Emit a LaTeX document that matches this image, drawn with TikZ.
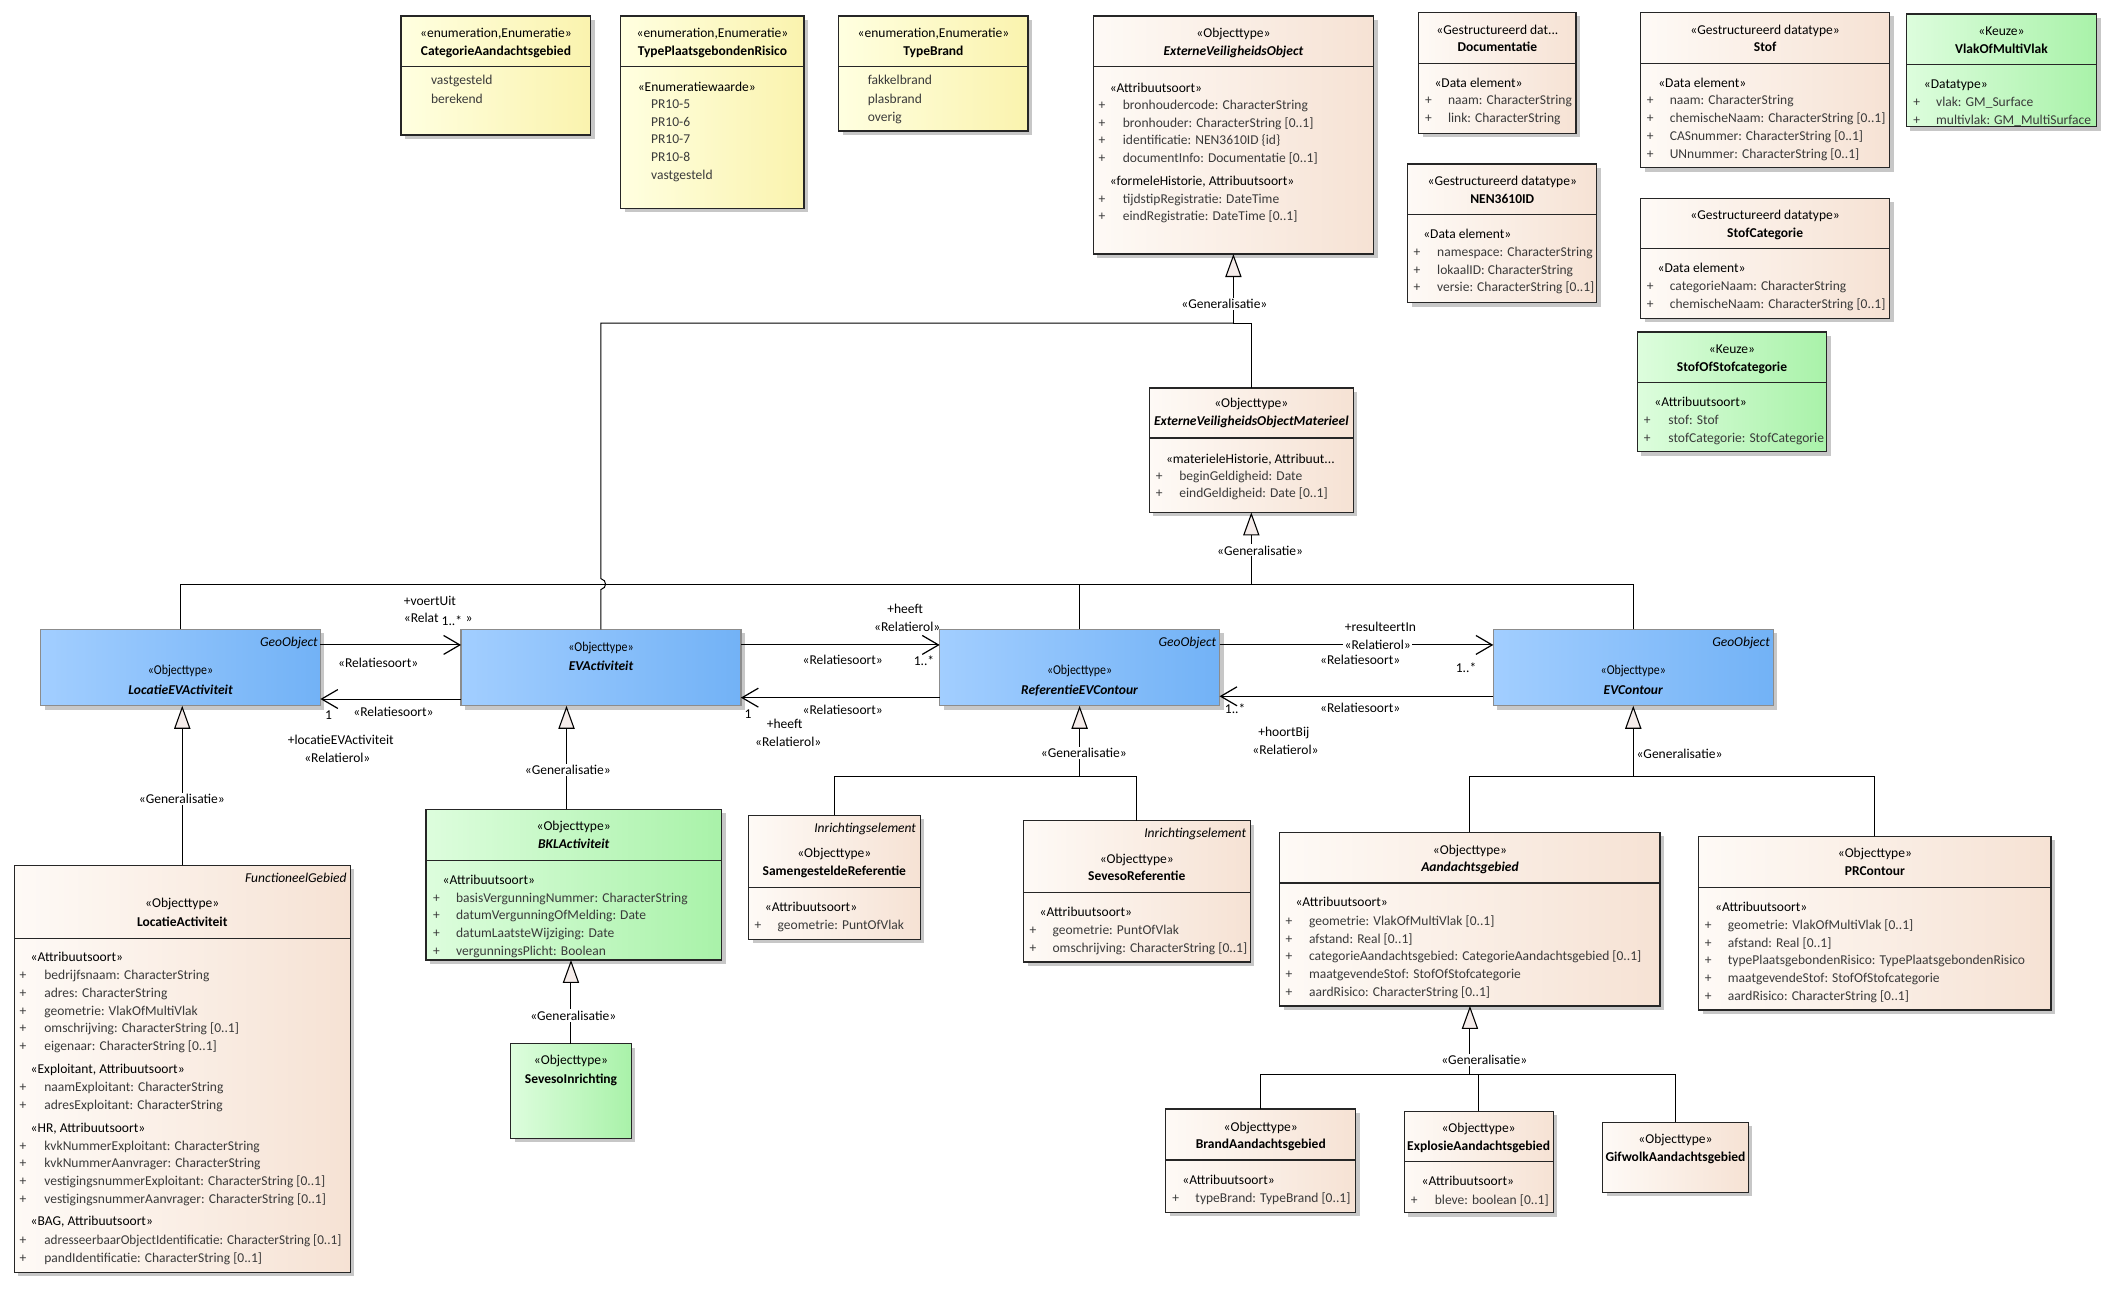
\documentclass[tikz,border=0pt]{standalone}
\usepackage{fontspec}
\setmainfont{Carlito}
\usepackage{graphicx}
\usetikzlibrary{arrows.meta,shadows,calc}
\definecolor{bgL}{HTML}{FEFAF6}
\definecolor{bgR}{HTML}{F6E2D4}
\definecolor{blL}{HTML}{A2CEFF}
\definecolor{blR}{HTML}{72B2F6}
\definecolor{grL}{HTML}{DDFDDD}
\definecolor{grR}{HTML}{A9F2A9}
\definecolor{yeL}{HTML}{FFFFE0}
\definecolor{yeR}{HTML}{FAF3AE}
\definecolor{genfill}{HTML}{F5ECEA}
\definecolor{attrc}{HTML}{3A3A3A}
\tikzset{
 boxbase/.style={anchor=north west, inner sep=0pt, outer sep=0pt, line width=0.9pt, draw=black!85,
   drop shadow={shadow xshift=3pt, shadow yshift=-3pt, fill=black!22, opacity=1}},
 beigebox/.style={boxbase, left color=bgL, right color=bgR},
 bluebox/.style={boxbase, draw=black!45, left color=blL, right color=blR},
 greenbox/.style={boxbase, left color=grL, right color=grR},
 yellowbox/.style={boxbase, left color=yeL, right color=yeR},
 divline/.style={line width=0.9pt, draw=black!85},
 txt/.style={inner sep=0pt, outer sep=0pt, font=\fontsize{10}{12}\selectfont, text=black},
 attr/.style={text=attrc},
 fbold/.style={font=\fontsize{10}{12}\selectfont\bfseries},
 fbi/.style={font=\fontsize{10}{12}\selectfont\bfseries\itshape},
 fital/.style={font=\fontsize{10}{12}\selectfont\itshape},
 genline/.style={line width=0.75pt, draw=black},
 genarrow/.style={genline, -{Triangle[length=17pt, width=12pt, fill=genfill, line width=0.8pt]}},
 assoc/.style={line width=0.75pt, draw=black, -{Straight Barb[length=12pt, width=14pt, line width=0.9pt]}},
 genlbl/.style={fill=white, inner sep=1pt},
}
\newcounter{tn}
\newcommand\T[4][]{\stepcounter{tn}\node[txt,anchor=base,#1] (t\arabic{tn}) at (#2,#3+3.5) {#4};}
\newcommand\TL[4][]{\stepcounter{tn}\node[txt,anchor=base west,#1] (t\arabic{tn}) at (#2,#3+3.5) {#4};}
\newcommand\TR[4][]{\stepcounter{tn}\node[txt,anchor=base east,#1] (t\arabic{tn}) at (#2,#3+3.5) {#4};}
\newcommand\AT[4]{\T[attr]{#1}{#3}{+}\TL[attr]{#2}{#3}{#4}}
\newcommand\UB[7]{\node[#2, minimum width={#5-#3}, minimum height={#6-#4}] (#1) at (#3,#4) {};%
 \ifx\relax#7\relax\else\draw[divline] (#1.west |- 0,#7) -- (#1.east |- 0,#7);\fi}
\begin{document}
\begin{tikzpicture}[x=1pt,y=-1pt]
\fill[white] (0,0) rectangle (1568,956);
\useasboundingbox (0,0) rectangle (1568,956);

% ---------- top row ----------
\UB{cat}{yellowbox}{296.6}{11.8}{437}{99.9}{49.3}
\T{366.8}{24.6}{«enumeration,Enumeratie»}
\T[fbold]{366.8}{37.5}{CategorieAandachtsgebied}
\TL[attr]{318.8}{59}{vastgesteld}
\TL[attr]{318.8}{72.7}{berekend}

\UB{tpr}{yellowbox}{459}{11.8}{594.7}{154}{49.3}
\T{526.9}{24.6}{«enumeration,Enumeratie»}
\T[fbold]{526.9}{37.5}{TypePlaatsgebondenRisico}
\TL{471.7}{64}{«Enumeratiewaarde»}
\TL[attr]{481.6}{77}{PR10-5}
\TL[attr]{481.6}{90}{PR10-6}
\TL[attr]{481.6}{103}{PR10-7}
\TL[attr]{481.6}{116}{PR10-8}
\TL[attr]{481.6}{129.4}{vastgesteld}

\UB{tb}{yellowbox}{620.4}{11.8}{760.4}{96.9}{49.3}
\T{690.4}{24.6}{«enumeration,Enumeratie»}
\T[fbold]{690.4}{37.5}{TypeBrand}
\TL[attr]{641.8}{59}{fakkelbrand}
\TL[attr]{641.8}{72.7}{plasbrand}
\TL[attr]{641.8}{86.3}{overig}

\UB{EVO}{beigebox}{808.5}{11.8}{1016}{187.9}{49.3}
\T{912.3}{24.6}{«Objecttype»}
\T[fbi]{912.3}{37.5}{ExterneVeiligheidsObject}
\TL{820.8}{64.6}{«Attribuutsoort»}
\AT{815}{830.5}{77.7}{bronhoudercode: CharacterString}
\AT{815}{830.5}{90.5}{bronhouder: CharacterString [0..1]}
\AT{815}{830.5}{103.6}{identificatie: NEN3610ID \{id\}}
\AT{815}{830.5}{116.4}{documentInfo: Documentatie [0..1]}
\TL{820.8}{133.9}{«formeleHistorie, Attribuutsoort»}
\AT{815}{830.5}{147.2}{tijdstipRegistratie: DateTime}
\AT{815}{830.5}{159.5}{eindRegistratie: DateTime [0..1]}

\UB{doc}{beigebox}{1049.2}{9.1}{1165.7}{98.6}{46.8}
\T{1107.5}{21.7}{«Gestructureerd dat...}
\T[fbold]{1107.5}{34.5}{Documentatie}
\TL{1061}{61.2}{«Data element»}
\AT{1056.5}{1071}{74}{naam: CharacterString}
\AT{1056.5}{1071}{87}{link: CharacterString}

\UB{nen}{beigebox}{1041.2}{121.3}{1181}{223.9}{158.5}
\T{1111.1}{133.6}{«Gestructureerd datatype»}
\T[fbold]{1111.1}{147}{NEN3610ID}
\TL{1052.7}{172.6}{«Data element»}
\AT{1048}{1063}{186.2}{namespace: CharacterString}
\AT{1048}{1063}{199.2}{lokaalID: CharacterString}
\AT{1048}{1063}{212}{versie: CharacterString [0..1]}

\UB{stof}{beigebox}{1213.5}{9.1}{1397.6}{124}{46.8}
\T{1305.5}{21.7}{«Gestructureerd datatype»}
\T[fbold]{1305.5}{34.5}{Stof}
\TL{1226.5}{61.2}{«Data element»}
\AT{1220.6}{1235}{74}{naam: CharacterString}
\AT{1220.6}{1235}{87}{chemischeNaam: CharacterString [0..1]}
\AT{1220.6}{1235}{100.6}{CASnummer: CharacterString [0..1]}
\AT{1220.6}{1235}{113.9}{UNnummer: CharacterString [0..1]}

\UB{stofcat}{beigebox}{1213.5}{146.7}{1397.6}{235.4}{183.7}
\T{1305.5}{158.5}{«Gestructureerd datatype»}
\T[fbold]{1305.5}{171.8}{StofCategorie}
\TL{1226}{197.7}{«Data element»}
\AT{1220.6}{1235}{211.3}{categorieNaam: CharacterString}
\AT{1220.6}{1235}{224.9}{chemischeNaam: CharacterString [0..1]}

\UB{vlak}{greenbox}{1410}{10.4}{1550.7}{93.7}{47.6}
\T{1480.3}{22.7}{«Keuze»}
\T[fbold]{1480.3}{36}{VlakOfMultiVlak}
\TL{1423}{62.1}{«Datatype»}
\AT{1417.6}{1432}{75.2}{vlak: GM\_Surface}
\AT{1417.6}{1432}{88.3}{multivlak: GM\_MultiSurface}

\UB{sos}{greenbox}{1211}{245.6}{1351.1}{334}{283}
\T{1281}{257.6}{«Keuze»}
\T[fbold]{1281}{271.2}{StofOfStofcategorie}
\TL{1223.6}{297.1}{«Attribuutsoort»}
\AT{1218.4}{1234}{310.1}{stof: Stof}
\AT{1218.4}{1234}{323.5}{stofCategorie: StofCategorie}

\UB{EVOM}{beigebox}{850}{287}{1001}{379}{324}
\T{925.5}{298}{«Objecttype»}
\T[fbi]{925.5}{311}{ExterneVeiligheidsObjectMaterieel}
\TL{862.4}{339}{«materieleHistorie, Attribuut...}
\AT{857.3}{872.3}{351.6}{beginGeldigheid: Date}
\AT{857.3}{872.3}{364.4}{eindGeldigheid: Date [0..1]}

% ---------- blue row ----------
\UB{LocEV}{bluebox}{30}{465.5}{237}{522}{}
\TR[fital]{235}{474.8}{GeoObject}
\T{133.5}{495}{\scalebox{0.88}[1]{«Objecttype»}}
\T[fbi]{133.5}{510}{LocatieEVActiviteit}

\UB{EVAct}{bluebox}{341}{465.5}{548}{522}{}
\T{444.5}{478.3}{\scalebox{0.88}[1]{«Objecttype»}}
\T[fbi]{444.5}{492.4}{EVActiviteit}

\UB{RefEV}{bluebox}{695}{465.5}{902}{522}{}
\TR[fital]{899.5}{474.8}{GeoObject}
\T{798.5}{495}{\scalebox{0.88}[1]{«Objecttype»}}
\T[fbi]{798.5}{510}{ReferentieEVContour}

\UB{EVC}{bluebox}{1104.5}{465.5}{1311.5}{522}{}
\TR[fital]{1309}{474.8}{GeoObject}
\T{1208}{495}{\scalebox{0.88}[1]{«Objecttype»}}
\T[fbi]{1208}{510}{EVContour}

% ---------- lower boxes ----------
\UB{LocAct}{beigebox}{10.6}{640}{259}{941}{694}
\TR[fital]{256.4}{649}{FunctioneelGebied}
\T{134.8}{668}{«Objecttype»}
\T[fbold]{134.8}{681.7}{LocatieActiviteit}
\TL{22.7}{708}{«Attribuutsoort»}
\AT{17}{32.8}{721.2}{bedrijfsnaam: CharacterString}
\AT{17}{32.8}{734.2}{adres: CharacterString}
\AT{17}{32.8}{747.5}{geometrie: VlakOfMultiVlak}
\AT{17}{32.8}{760.1}{omschrijving: CharacterString [0..1]}
\AT{17}{32.8}{773.4}{eigenaar: CharacterString [0..1]}
\TL{22.7}{790.4}{«Exploitant, Attribuutsoort»}
\AT{17}{32.8}{803.8}{naamExploitant: CharacterString}
\AT{17}{32.8}{817.3}{adresExploitant: CharacterString}
\TL{22.7}{833.8}{«HR, Attribuutsoort»}
\AT{17}{32.8}{847.4}{kvkNummerExploitant: CharacterString}
\AT{17}{32.8}{860}{kvkNummerAanvrager: CharacterString}
\AT{17}{32.8}{873.3}{vestigingsnummerExploitant: CharacterString [0..1]}
\AT{17}{32.8}{886.6}{vestigingsnummerAanvrager: CharacterString [0..1]}
\TL{22.7}{903.1}{«BAG, Attribuutsoort»}
\AT{17}{32.8}{916.7}{\scalebox{0.975}[1]{adresseerbaarObjectIdentificatie: CharacterString [0..1]}}
\AT{17}{32.8}{930}{pandIdentificatie: CharacterString [0..1]}

\UB{BKL}{greenbox}{315}{598.6}{533.6}{710}{636.3}
\T{424.3}{610.7}{«Objecttype»}
\T[fbi]{424.3}{623.8}{BKLActiviteit}
\TL{327.4}{650.4}{«Attribuutsoort»}
\AT{322.9}{337.3}{663.7}{basisVergunningNummer: CharacterString}
\AT{322.9}{337.3}{676.8}{datumVergunningOfMelding: Date}
\AT{322.9}{337.3}{689.8}{datumLaatsteWijziging: Date}
\AT{322.9}{337.3}{703.2}{vergunningsPlicht: Boolean}

\UB{SevInr}{greenbox}{377.6}{772}{467}{842}{}
\T{422.3}{784}{«Objecttype»}
\T[fbold]{422.3}{797.5}{SevesoInrichting}

\UB{SamRef}{beigebox}{553.6}{603}{680.6}{694.6}{656.6}
\TR[fital]{677.5}{612}{Inrichtingselement}
\T{617.1}{631}{«Objecttype»}
\T[fbold]{617.1}{644}{SamengesteldeReferentie}
\TL{565.7}{670.6}{«Attribuutsoort»}
\AT{560.7}{575.2}{684}{geometrie: PuntOfVlak}

\UB{SevRef}{beigebox}{757}{607}{924.6}{711.5}{660}
\TR[fital]{921.6}{616}{Inrichtingselement}
\T{840.8}{635}{«Objecttype»}
\T[fbold]{840.8}{648}{SevesoReferentie}
\TL{769}{674}{«Attribuutsoort»}
\AT{764}{778.5}{687.6}{geometrie: PuntOfVlak}
\AT{764}{778.5}{701}{omschrijving: CharacterString [0..1]}

\UB{Aand}{beigebox}{946.6}{615.5}{1227.8}{744}{653}
\T{1087.2}{628.7}{«Objecttype»}
\T[fbi]{1087.2}{641}{Aandachtsgebied}
\TL{958.2}{667}{«Attribuutsoort»}
\AT{953.4}{968.2}{681}{geometrie: VlakOfMultiVlak [0..1]}
\AT{953.4}{968.2}{694}{afstand: Real [0..1]}
\AT{953.4}{968.2}{707}{categorieAandachtsgebied: CategorieAandachtsgebied [0..1]}
\AT{953.4}{968.2}{720}{maatgevendeStof: StofOfStofcategorie}
\AT{953.4}{968.2}{733.5}{aardRisico: CharacterString [0..1]}

\UB{PRC}{beigebox}{1256.4}{618.5}{1517}{747}{656.5}
\T{1386.7}{631}{«Objecttype»}
\T[fbold]{1386.7}{644}{PRContour}
\TL{1268.5}{670.8}{«Attribuutsoort»}
\AT{1263.4}{1278}{684}{geometrie: VlakOfMultiVlak [0..1]}
\AT{1263.4}{1278}{697}{afstand: Real [0..1]}
\AT{1263.4}{1278}{710}{typePlaatsgebondenRisico: TypePlaatsgebondenRisico}
\AT{1263.4}{1278}{723}{maatgevendeStof: StofOfStofcategorie}
\AT{1263.4}{1278}{736.5}{aardRisico: CharacterString [0..1]}

\UB{Brand}{beigebox}{862.3}{820.3}{1002.7}{896.6}{858}
\T{932.5}{833.6}{«Objecttype»}
\T[fbold]{932.5}{845.6}{BrandAandachtsgebied}
\TL{874.5}{872.8}{«Attribuutsoort»}
\AT{869.6}{884.2}{886.2}{typeBrand: TypeBrand [0..1]}

\UB{Expl}{beigebox}{1038.5}{822}{1148.7}{897}{859}
\T{1093.6}{834}{«Objecttype»}
\T[fbold]{1093.6}{847.4}{ExplosieAandachtsgebied}
\TL{1051.5}{873.6}{«Attribuutsoort»}
\AT{1045.9}{1061.2}{887}{bleve: boolean [0..1]}

\UB{Gif}{beigebox}{1185.4}{830}{1293}{881.8}{}
\T{1239.2}{842}{«Objecttype»}
\T[fbold]{1239.2}{855.5}{GifwolkAandachtsgebied}

% ---------- generalisation connectors ----------
\coordinate (gE) at (EVO.south |- 0,239);
\draw[genline] (EVOM.north) |- (gE);
\draw[genline] (EVAct.north) -- (EVAct.north |- 0,436) .. controls +(4.5,-1) and +(4.5,1) .. (EVAct.north |- 0,428) |- (gE);
\draw[genarrow] (gE) -- (EVO.south);

\coordinate (gM) at (EVOM.south |- 0,432);
\draw[genline] (LocEV.north) |- (gM);
\draw[genline] (EVC.north) |- (gM);
\draw[genline] (RefEV.north) -- (RefEV.north |- gM);
\draw[genarrow] (gM) -- (EVOM.south);

\draw[genarrow] (LocAct.north) -- (LocAct.north |- LocEV.south);
\draw[genarrow] ([xshift=-5.3pt]BKL.north) -- ([xshift=-5.3pt]BKL.north |- EVAct.south);
\draw[genarrow] (SevInr.north) -- (SevInr.north |- BKL.south);

\coordinate (gR) at (RefEV.south |- 0,574);
\draw[genline] (SamRef.north) |- (gR);
\draw[genline] (SevRef.north) |- (gR);
\draw[genarrow] (gR) -- (RefEV.south);

\coordinate (gC) at (EVC.south |- 0,574);
\draw[genline] (Aand.north) |- (gC);
\draw[genline] (PRC.north) |- (gC);
\draw[genarrow] (gC) -- (EVC.south);

\coordinate (gA) at (Aand.south |- 0,795);
\draw[genline] (Brand.north) |- (gA);
\draw[genline] (Expl.north) |- (gA);
\draw[genline] (Gif.north) |- (gA);
\draw[genarrow] (gA) -- (Aand.south);

\T[genlbl]{905.6}{225}{«Generalisatie»}
\T[genlbl]{932}{407}{«Generalisatie»}
\T[genlbl]{134.5}{591}{«Generalisatie»}
\T[genlbl]{420}{569.6}{«Generalisatie»}
\T[genlbl]{424}{751}{«Generalisatie»}
\T[genlbl]{801.6}{556.7}{«Generalisatie»}
\T{1242.2}{557.7}{«Generalisatie»}
\T[genlbl]{1097.8}{784}{«Generalisatie»}

% ---------- associations ----------
\draw[assoc] (LocEV.east |- 0,477) -- (EVAct.west |- 0,477);
\draw[assoc] (EVAct.west |- 0,517) -- (LocEV.east |- 0,517);
\draw[assoc] (EVAct.east |- 0,477) -- (RefEV.west |- 0,477);
\draw[assoc] (RefEV.west |- 0,516) -- (EVAct.east |- 0,516);
\draw[assoc] (RefEV.east |- 0,477) -- (EVC.west |- 0,477);
\draw[assoc] (EVC.west |- 0,515) -- (RefEV.east |- 0,515);

\T{318}{444}{+voertUit}
\TL{298.7}{457}{«Relat}
\T{334.2}{459}{1..*}
\T{347}{457}{»}
\T{279.7}{490}{«Relatiesoort»}
\T{243}{529}{1}
\T{291}{526.6}{«Relatiesoort»}
\T{252}{547.3}{+locatieEVActiviteit}
\T{249.5}{560.4}{«Relatierol»}

\T{669.4}{450.5}{+heeft}
\T{671}{463.5}{«Relatierol»}
\T{623.3}{487.7}{«Relatiesoort»}
\T{683.4}{489}{1..*}
\T{553.3}{527.6}{1}
\T{623.3}{524.6}{«Relatiesoort»}
\T{580.3}{535.5}{+heeft}
\T{583}{548.6}{«Relatierol»}

\T{1021}{463.5}{+resulteertIn}
\T[genlbl]{1019}{477}{«Relatierol»}
\T{1006}{487.7}{«Relatiesoort»}
\T{1084.3}{493.8}{1..*}
\T{913.5}{523.9}{1..*}
\T{1006}{523.4}{«Relatiesoort»}
\T{949.6}{541.2}{+hoortBij}
\T{950.8}{554.7}{«Relatierol»}
\end{tikzpicture}
\end{document}
